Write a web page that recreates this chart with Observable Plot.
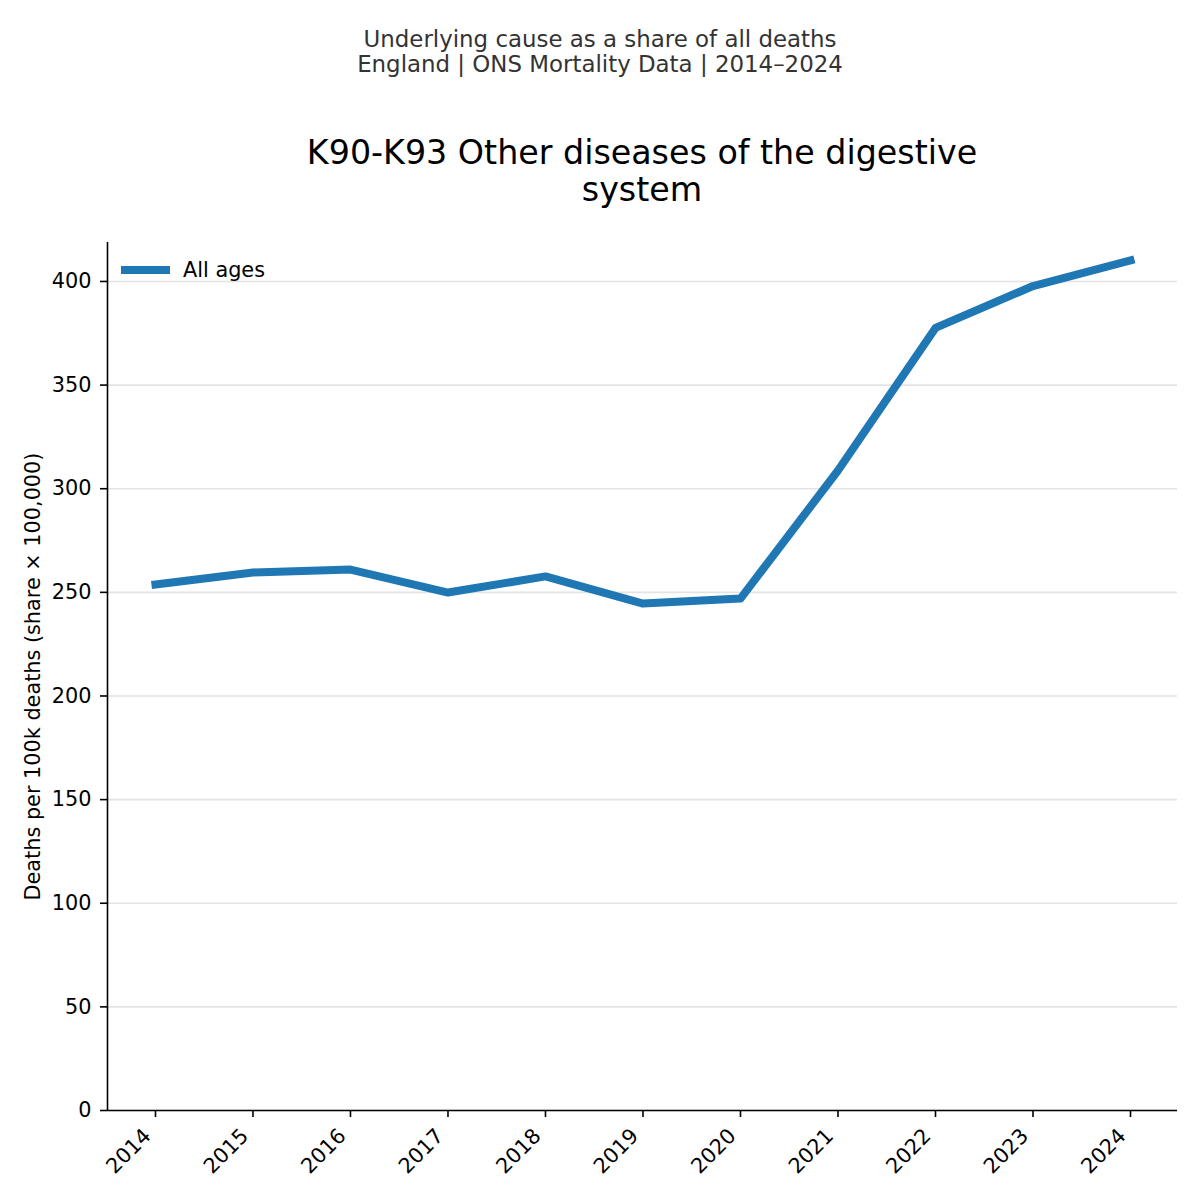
<!DOCTYPE html>
<html>
<head>
<meta charset="utf-8">
<script src="https://cdn.jsdelivr.net/npm/d3@7"></script>
<script src="https://cdn.jsdelivr.net/npm/@observablehq/plot@0.6"></script>
<style>
  html, body { margin: 0; padding: 0; background: #fff; }
  body { width: 1200px; height: 1200px; position: relative; overflow: hidden; font-family: "DejaVu Sans", sans-serif; }
  #header { position: relative; height: 220px; }
  .sub { position: absolute; left: 0; width: 1200px; text-align: center; font-size: 22.9px; line-height: 27px; color: #333; white-space: nowrap; }
  .ttl { position: absolute; left: 107px; width: 1070px; text-align: center; font-size: 33.3px; line-height: 39px; color: #000; white-space: nowrap; }
  #legend { position: absolute; left: 121px; top: 257px; display: flex; align-items: center; font-size: 20.8px; line-height: 26px; color: #000; }
  #legend .sw { width: 49px; height: 8px; background: #1f77b4; margin-right: 13px; }
</style>
</head>
<body>
<div id="header">
  <div class="sub" style="top:26px">Underlying cause as a share of all deaths</div>
  <div class="sub" style="top:51px">England | ONS Mortality Data | 2014–2024</div>
  <div class="ttl" style="top:133px">K90-K93 Other diseases of the digestive</div>
  <div class="ttl" style="top:170px">system</div>
</div>
<div id="chart"></div>
<div id="legend"><span class="sw"></span><span>All ages</span></div>
<script>
const years = [2014, 2015, 2016, 2017, 2018, 2019, 2020, 2021, 2022, 2023, 2024];
const values = [253.8, 259.6, 261.0, 249.9, 257.7, 244.6, 247.0, 308.8, 377.6, 397.8, 410.2];
const yTicks = [0, 50, 100, 150, 200, 250, 300, 350, 400];
const seriesName = "All ages";

const data = years.map((y, i) => ({year: y, value: values[i], series: seriesName}));
const xDomain = [2013.508, 2024.482];
const yDomain = [0, 418.8];

const chart = Plot.plot({
  width: 1200,
  height: 980,
  marginLeft: 107,
  marginRight: 23,
  marginTop: 22,
  marginBottom: 90,
  style: {fontFamily: "DejaVu Sans, sans-serif", fontSize: "20.8px", color: "#000", background: "#fff", overflow: "visible"},
  x: {domain: xDomain, label: null},
  y: {domain: yDomain, label: null},
  marks: [
    Plot.gridY(yTicks, {stroke: "#e3e3e3", strokeOpacity: 1, strokeWidth: 1.6}),
    Plot.ruleY([0], {stroke: "#000", strokeWidth: 1.6}),
    Plot.ruleX([xDomain[0]], {stroke: "#000", strokeWidth: 1.6}),
    Plot.axisY({ticks: yTicks, tickSize: 7, tickPadding: 9, tickFormat: d => String(d), stroke: "#000", strokeWidth: 1.6, label: null}),
    Plot.axisX({ticks: years, tickSize: 7, tickFormat: () => "", stroke: "#000", strokeWidth: 1.6, label: null}),
    Plot.axisX({ticks: years, tickSize: 0, tickPadding: 13, tickRotate: -45, dx: -8, dy: 9, tickFormat: d => String(d), label: null}),
    Plot.text(["Deaths per 100k deaths (share × 100,000)"], {frameAnchor: "left", textAnchor: "middle", dx: -74, rotate: -90, fontSize: 20.8, fill: "#000"}),
    Plot.line(data, {x: "year", y: "value", stroke: "#1f77b4", strokeWidth: 8, strokeLinejoin: "round", strokeLinecap: "square"})
  ]
});
document.getElementById("chart").appendChild(chart);
</script>
</body>
</html>
